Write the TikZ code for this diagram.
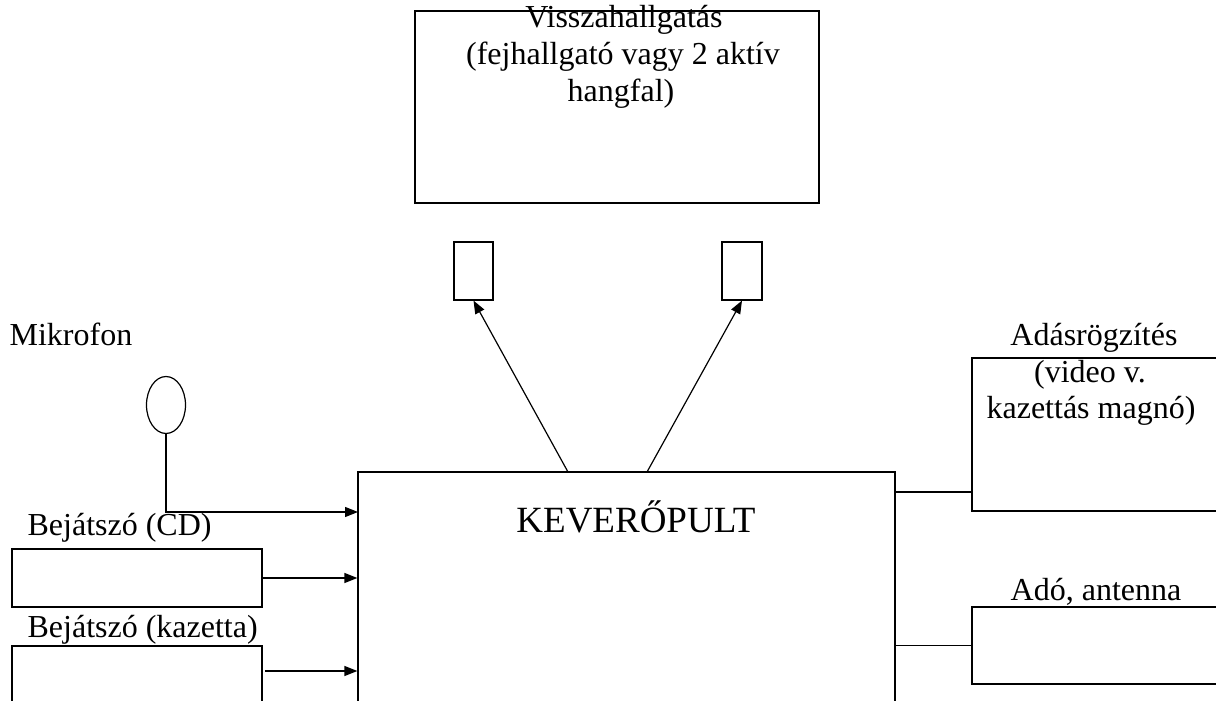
\documentclass[tikz,border=0pt]{standalone}
\usepackage{fontspec}
\setmainfont{Liberation Serif}
\usetikzlibrary{shapes.geometric,arrows.meta}

\begin{document}
\begin{tikzpicture}[
    x=1pt, y=-1pt,
    >={Triangle[length=13pt,width=10pt]},
    line width=1.2pt,
    box/.style={draw, rectangle, inner sep=0pt},
    mic/.style={draw, ellipse, inner sep=0pt},
    lbl/.style={font=\fontsize{32}{36.8}\selectfont, inner sep=0pt, anchor=base},
    biglbl/.style={font=\fontsize{37}{42}\selectfont, inner sep=0pt, anchor=base},
    sig/.style={->}
  ]
  \useasboundingbox (0,0) rectangle (1216,701);
  \clip (0,0) rectangle (1216,701);

  % boxes, placed at their centres
  \node[box, minimum width=404pt, minimum height=192pt] (listen) at (617,107) {};
  \node[box, minimum width=39pt, minimum height=58pt] (spkL) at (473.5,271) {};
  \node[box, minimum width=40pt, minimum height=58pt] (spkR) at (742,271) {};
  \node[box, minimum width=537pt, minimum height=288pt] (mixer) at (626.5,616) {};
  \node[mic, minimum width=39pt, minimum height=57pt] (micro) at (166,405) {};
  \node[box, minimum width=250pt, minimum height=58pt] (cd) at (137,578) {};
  \node[box, minimum width=250pt, minimum height=114pt] (tape) at (137,703) {};
  \node[box, minimum width=288pt, minimum height=153pt] (rec) at (1116,434.5) {};
  \node[box, minimum width=288pt, minimum height=77pt] (tx) at (1116,645.5) {};

  % labels
  \node[lbl] (listenA) at (624,28) {Visszahallgatás};
  \node[lbl] (listenB) at (623,64.5) {(fejhallgató vagy 2 aktív};
  \node[lbl] (listenC) at (621,101) {hangfal)};
  \node[lbl, anchor=base west] (micLbl) at (9,345) {Mikrofon};
  \node[lbl, anchor=base west] (cdLbl) at (27,535) {Bejátszó (CD)};
  \node[lbl, anchor=base west] (tapeLbl) at (27,637) {Bejátszó (kazetta)};
  \node[biglbl] (mixLbl) at (636,532) {KEVERŐPULT};
  \node[lbl] (recA) at (1094,345) {Adásrögzítés};
  \node[lbl] (recB) at (1090,382) {(video v.};
  \node[lbl] (recC) at (1091,418) {kazettás magnó)};
  \node[lbl] (txLbl) at (1096,600) {Adó, antenna};

  % connector ends
  \coordinate (outL) at (568,472);
  \coordinate (outR) at (647,472);
  \coordinate (micIn) at (358,512);
  \coordinate (tapeOut) at (265,671);
  \coordinate (recIn) at (972,492);

  % outputs to the monitors
  \draw[sig] (outL) -- (spkL.south);
  \draw[sig] (outR) -- (spkR.south);

  % inputs
  \draw[sig] (micro.south) |- (micIn);
  \draw[sig] (cd.east) -- (cd.east -| mixer.west);
  \draw[sig] (tapeOut) -- (tapeOut -| mixer.west);

  % outgoing lines
  \draw (recIn -| mixer.east) -- (recIn);
  \draw (tx.west -| mixer.east) -- (tx.west);

\end{tikzpicture}
\end{document}
